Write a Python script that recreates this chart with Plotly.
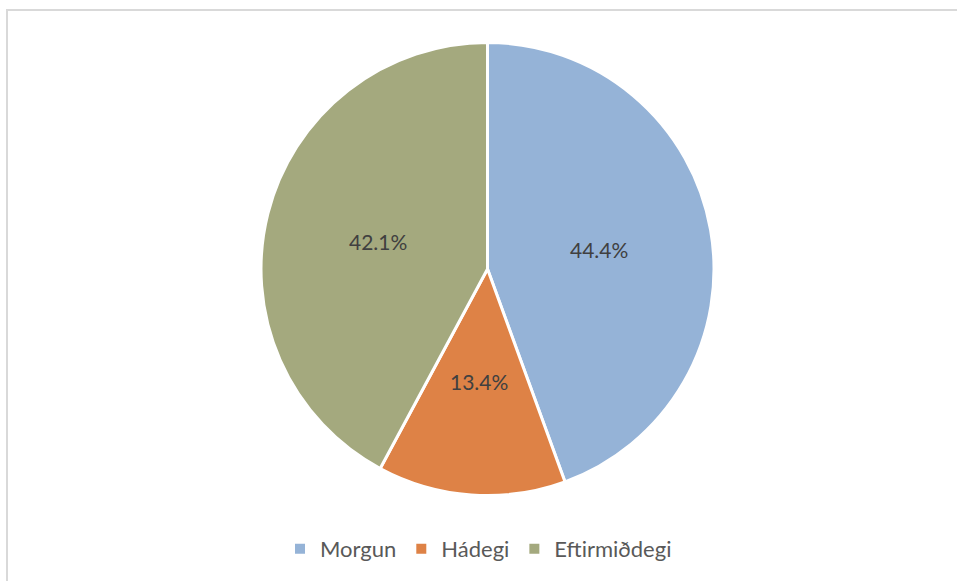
import math
import plotly.graph_objects as go

# Share of activity by time of day
categories = ["Morgun", "Hádegi", "Eftirmiðdegi"]
shares = [44.4, 13.4, 42.1]
slice_colors = ["#95B3D7", "#DE8246", "#A4A97E"]

W, H = 957, 581
FONT = "Lato, 'Open Sans', sans-serif"

# pie placement in pixels (left, right, top, bottom)
px_l, px_r, px_t, px_b = 261, 714, 42, 496
cx = (px_l + px_r) / 2
cy = (px_t + px_b) / 2
radius = (px_r - px_l) / 2

fig = go.Figure(
    go.Pie(
        labels=categories,
        values=shares,
        sort=False,
        direction="clockwise",
        rotation=0,
        marker=dict(colors=slice_colors, line=dict(color="#FFFFFF", width=3)),
        textinfo="none",
        domain=dict(x=[px_l / W, px_r / W], y=[(H - px_b) / H, (H - px_t) / H]),
        hoverinfo="label+percent",
    )
)

# value labels sit at half the radius, on each slice's bisector
total = sum(shares)
annotations = []
acc = 0.0
for val in shares:
    mid = (acc + val / 2) / total * 2 * math.pi
    acc += val
    lx = cx + 0.5 * radius * math.sin(mid)
    ly = cy - 0.5 * radius * math.cos(mid)
    annotations.append(
        dict(
            x=lx / W,
            y=1 - ly / H,
            xref="paper",
            yref="paper",
            text=f"{val:.1f}%",
            showarrow=False,
            xanchor="center",
            yanchor="middle",
            font=dict(family=FONT, size=21, color="#404040"),
        )
    )

fig.update_layout(
    width=W,
    height=H,
    margin=dict(l=0, r=0, t=0, b=0),
    paper_bgcolor="#FFFFFF",
    plot_bgcolor="#FFFFFF",
    showlegend=True,
    legend=dict(
        orientation="h",
        x=0.5,
        xanchor="center",
        y=(H - 549) / H,
        yanchor="middle",
        font=dict(family=FONT, size=22, color="#595959"),
        itemsizing="constant",
        traceorder="normal",
    ),
    annotations=annotations,
    shapes=[
        dict(
            type="rect",
            xref="paper",
            yref="paper",
            x0=7 / W,
            x1=1.02,
            y0=-0.02,
            y1=(H - 10) / H,
            line=dict(color="#D9D9D9", width=2),
            fillcolor="rgba(0,0,0,0)",
            layer="below",
        )
    ],
)

fig.write_html("out.html")
